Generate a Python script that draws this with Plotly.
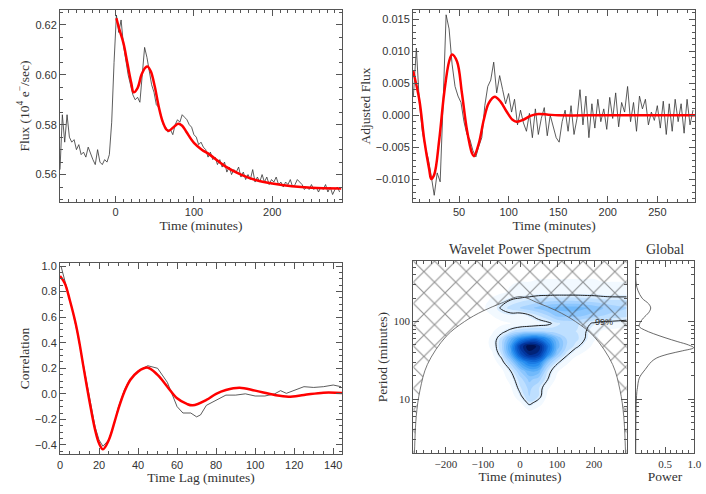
import numpy as np
import plotly.graph_objects as go

# ---- light curve (top left) ----
flux_time = list(range(-71, 288, 3))
flux = [0.562, 0.584, 0.573, 0.584, 0.575, 0.573, 0.574, 0.570, 0.572, 0.568,
        0.569, 0.567, 0.571, 0.568, 0.566, 0.564, 0.570, 0.565, 0.564, 0.566,
        0.565, 0.568, 0.581, 0.605, 0.624, 0.617, 0.622, 0.612, 0.606, 0.600,
        0.596, 0.592, 0.590, 0.591, 0.589, 0.602, 0.611, 0.607, 0.601, 0.596,
        0.593, 0.588, 0.587, 0.583, 0.580, 0.579, 0.577, 0.578, 0.576, 0.580,
        0.582, 0.581, 0.584, 0.583, 0.582, 0.580, 0.579, 0.576, 0.575, 0.572,
        0.573, 0.571, 0.570, 0.567, 0.569, 0.566, 0.567, 0.564, 0.566, 0.563,
        0.565, 0.561, 0.563, 0.560, 0.562, 0.561, 0.563, 0.559, 0.561, 0.558,
        0.560, 0.558, 0.562, 0.557, 0.559, 0.557, 0.560, 0.557, 0.559, 0.556,
        0.558, 0.557, 0.559, 0.556, 0.557, 0.555, 0.557, 0.556, 0.558, 0.555,
        0.556, 0.558, 0.557, 0.556, 0.554, 0.555, 0.554, 0.556, 0.554, 0.555,
        0.553, 0.555, 0.554, 0.556, 0.553, 0.555, 0.552, 0.554, 0.555, 0.553]

fit_time = [1, 5, 10, 15, 20, 23, 28, 33, 38, 41, 45, 50, 55, 60, 65, 68, 75, 80,
            85, 90, 100, 110, 120, 140, 160, 180, 200, 225, 250, 288]
fit_flux = [0.6227, 0.6180, 0.6127, 0.6047, 0.5967, 0.5930, 0.5947, 0.6000, 0.6029,
            0.6033, 0.6013, 0.5953, 0.5873, 0.5813, 0.5780, 0.5776, 0.5793, 0.5804,
            0.5796, 0.5773, 0.5727, 0.5700, 0.5680, 0.5633, 0.5600, 0.5577, 0.5564,
            0.5553, 0.5547, 0.5544]

# ---- detrended flux (top right), units of 1e-3 ----
adj_time = list(range(4, 288, 3))
adj_milli = [3.0, 10.5, 2.0, -2.5, -5.0, -6.8, -9.5, -12.5, -9.0, -10.4,
             2.0, 15.7, 13.5, 8.0, 4.5, 3.0, 2.0, -1.0, -3.0, -3.8,
             -5.5, -6.5, -4.8, -3.5, 1.5, 4.5, 5.5, 8.3, 3.5, 6.2,
             4.0, 1.8, 3.4, 0.5, 2.5, -1.5, 0.8, -1.2, -2.5, 0.3,
             -3.5, 1.0, -3.0, -0.5, 1.2, -3.2, 0.0, -2.0, -3.5, -4.2,
             -1.0, 0.8, -2.5, 1.5, -3.0, -0.5, 4.0, -1.5, 3.0, -3.5,
             1.8, -2.0, 2.5, -1.0, 1.0, -2.2, 2.8, -0.5, 3.5, -1.8,
             2.0, 0.5, 4.5, -1.0, 2.0, -2.5, 3.0, 1.0, 2.5, -1.5,
             0.5, -0.8, 1.5, -2.0, 2.2, -3.0, 1.8, -2.5, 2.5, -1.0,
             1.8, -2.8, 2.5, -1.5, 0.8]

adjfit_time = [3.6, 10, 15, 20, 22, 25, 30, 35, 40, 43, 48, 53, 58, 63, 65, 70, 75,
               80, 86, 92, 98, 104, 108, 115, 122, 130, 140, 150, 200, 288]
adjfit_milli = [7.0, 2.4, -3.9, -8.5, -9.95, -9.3, -3.9, 3.4, 8.4, 9.5, 8.4, 3.4,
                -2.3, -5.9, -6.4, -4.4, -0.7, 1.9, 2.9, 2.1, 0.6, -0.7, -1.0, -0.7,
                -0.1, 0.2, 0.1, 0.0, 0.0, 0.0]

# ---- autocorrelation (bottom left) ----
lag = [0.5, 3, 6, 9, 12, 15, 18, 20, 22, 25, 28, 30, 33, 36, 40, 45, 50, 55, 60,
       63, 67, 70, 72, 75, 80, 85, 90, 95, 100, 105, 110, 113, 116, 120, 125, 130,
       135, 140, 144]
corr = [1.0, 0.85, 0.68, 0.47, 0.23, -0.03, -0.26, -0.36, -0.41, -0.36, -0.22,
        -0.10, 0.03, 0.12, 0.18, 0.22, 0.20, 0.09, -0.10, -0.15, -0.15, -0.18,
        -0.165, -0.09, -0.05, -0.01, -0.01, 0.0, -0.017, -0.017, 0.0, 0.025, 0.004,
        0.03, 0.056, 0.05, 0.056, 0.069, 0.056]

fit_lag = [0, 2.5, 5, 8, 10, 12, 15, 18, 20, 22, 25, 28, 30, 33, 36, 40, 45, 50, 55,
           60, 65, 68, 75, 80, 85, 92, 100, 110, 117, 125, 135, 144.5]
fit_corr = [0.922, 0.864, 0.734, 0.552, 0.395, 0.213, -0.048, -0.283, -0.387,
            -0.434, -0.361, -0.217, -0.113, 0.017, 0.108, 0.174, 0.205, 0.148,
            0.056, -0.035, -0.079, -0.090, -0.048, 0.0, 0.030, 0.048, 0.025,
            -0.009, -0.022, -0.009, 0.009, 0.007]

# ---- wavelet power (bottom right) ----
wave_time = [-288, -150, -100, -75, -50, -25, 0, 25, 50, 75, 100, 125, 150, 175,
             200, 225, 250, 288]
wave_period = [2, 7, 9, 11, 14, 18, 23, 30, 38, 48, 60, 75, 95, 120, 150, 190, 240, 600]
wave_power = [
    [0] * 18,
    [0, 0, 0, 0, 0, 0, 0, 0.02, 0, 0, 0, 0, 0, 0, 0, 0, 0, 0],
    [0, 0, 0, 0, 0, 0, 0.03, 0.15, 0.08, 0, 0, 0, 0, 0, 0, 0, 0, 0],
    [0, 0, 0, 0, 0, 0, 0.10, 0.22, 0.16, 0.02, 0, 0, 0, 0, 0, 0, 0, 0],
    [0, 0, 0, 0, 0, 0.03, 0.15, 0.24, 0.17, 0.05, 0, 0, 0, 0, 0, 0, 0, 0],
    [0, 0, 0, 0, 0, 0.07, 0.19, 0.30, 0.25, 0.12, 0.02, 0, 0, 0, 0, 0, 0, 0],
    [0, 0, 0, 0, 0.02, 0.12, 0.28, 0.40, 0.38, 0.16, 0.05, 0, 0, 0, 0, 0, 0, 0],
    [0, 0, 0, 0, 0.08, 0.25, 0.48, 0.62, 0.60, 0.30, 0.14, 0.06, 0, 0, 0, 0, 0, 0],
    [0, 0, 0, 0.03, 0.16, 0.42, 0.74, 0.90, 0.86, 0.58, 0.30, 0.14, 0.06, 0.02, 0, 0, 0, 0],
    [0, 0, 0, 0.06, 0.20, 0.48, 0.82, 1.00, 0.92, 0.66, 0.38, 0.22, 0.14, 0.08, 0.02, 0, 0, 0],
    [0, 0, 0, 0.06, 0.18, 0.38, 0.56, 0.66, 0.66, 0.52, 0.34, 0.22, 0.18, 0.12, 0.05, 0.02, 0, 0],
    [0, 0, 0, 0.03, 0.09, 0.15, 0.20, 0.22, 0.22, 0.20, 0.18, 0.16, 0.16, 0.13, 0.06, 0.03, 0.02, 0.01],
    [0, 0, 0, 0, 0.02, 0.04, 0.05, 0.06, 0.08, 0.10, 0.15, 0.18, 0.18, 0.14, 0.11, 0.09, 0.09, 0.08],
    [0, 0, 0.01, 0.04, 0.08, 0.09, 0.07, 0.11, 0.16, 0.22, 0.30, 0.30, 0.30, 0.28, 0.25, 0.22, 0.20, 0.18],
    [0, 0, 0.03, 0.07, 0.13, 0.18, 0.22, 0.26, 0.30, 0.34, 0.36, 0.37, 0.37, 0.35, 0.32, 0.28, 0.25, 0.22],
    [0, 0, 0.02, 0.05, 0.09, 0.12, 0.14, 0.16, 0.18, 0.19, 0.20, 0.20, 0.20, 0.19, 0.18, 0.17, 0.16, 0.16],
    [0, 0, 0, 0.02, 0.03, 0.05, 0.06, 0.06, 0.07, 0.07, 0.07, 0.07, 0.07, 0.07, 0.07, 0.06, 0.06, 0.06],
    [0] * 18,
]

# cone of influence
coi_time = [-288, -286, -280, -270, -250, -200, -150, -100, -50, 0, 50, 100, 150,
            200, 250, 270, 280, 286, 288]
coi_period = [1.0, 1.5, 6, 13, 28, 64, 100, 137, 173, 210, 173, 137, 100, 64, 28,
              13, 6, 1.5, 1.0]

# global wavelet spectrum
global_period = [600, 400, 300, 250, 200, 170, 150, 130, 111, 95, 86, 78, 70, 62,
                 55, 50, 46, 42, 38, 34, 30.5, 27, 24, 21, 18.6, 16, 14, 12.5, 10,
                 8.5, 6, 4, 2]
global_power = [0, 0, 0.01, 0.04, 0.11, 0.22, 0.256, 0.22, 0.13, 0.07, 0.062, 0.15,
                0.30, 0.50, 0.72, 0.90, 0.99, 0.80, 0.55, 0.36, 0.27, 0.21, 0.16,
                0.10, 0.06, 0.04, 0.03, 0.02, 0.012, 0.008, 0.004, 0.002, 0]

W, H = 706, 494
AX = '#555'
TXT = '#333'
SERIF = 'Liberation Serif'
SANS = 'Liberation Sans'


def dom(a, b, total):
    return [a / total, b / total]


def ydom(top, bottom):
    return [1 - bottom / H, 1 - top / H]


def axis(rng, dtick, minor_dtick, title=None, font=SANS, **kw):
    d = dict(range=rng, dtick=dtick, showline=True, linecolor=AX, linewidth=1,
             mirror='allticks', ticks='inside', ticklen=6, tickcolor=AX,
             tickfont=dict(family=font, size=11, color=TXT),
             showgrid=False, zeroline=False, automargin=False,
             minor=dict(ticks='inside', ticklen=3, tickcolor=AX, dtick=minor_dtick))
    if title:
        d['title'] = dict(text=title, font=dict(family=SERIF, size=13.5, color=TXT),
                          standoff=2)
    d.update(kw)
    return d


fig = go.Figure()

fig.add_trace(go.Scatter(x=flux_time, y=flux, mode='lines',
                         line=dict(color='#333', width=0.8), xaxis='x', yaxis='y'))
fig.add_trace(go.Scatter(x=fit_time, y=fit_flux, mode='lines',
                         line=dict(color='#ff0000', width=2.5, shape='spline'),
                         xaxis='x', yaxis='y'))

adj = np.array(adj_milli) * 1e-3
adjfit = np.array(adjfit_milli) * 1e-3
fig.add_trace(go.Scatter(x=adj_time, y=adj, mode='lines',
                         line=dict(color='#333', width=0.8), xaxis='x2', yaxis='y2'))
fig.add_trace(go.Scatter(x=adjfit_time, y=adjfit, mode='lines',
                         line=dict(color='#ff0000', width=2.5, shape='spline'),
                         xaxis='x2', yaxis='y2'))

fig.add_trace(go.Scatter(x=lag, y=corr, mode='lines',
                         line=dict(color='#333', width=0.8), xaxis='x3', yaxis='y3'))
fig.add_trace(go.Scatter(x=fit_lag, y=fit_corr, mode='lines',
                         line=dict(color='#ff0000', width=2.5, shape='spline'),
                         xaxis='x3', yaxis='y3'))

blues = [[0.0, '#ffffff'], [0.04, '#eef7ff'], [0.12, '#cde6ff'], [0.25, '#98ccff'],
         [0.4, '#5aaef8'], [0.55, '#2088ee'], [0.7, '#0a5ccc'], [0.85, '#02329a'],
         [1.0, '#000a40']]
fig.add_trace(go.Contour(x=wave_time, y=wave_period, z=wave_power, xaxis='x4', yaxis='y4',
                         colorscale=blues, zmin=0, zmax=1, showscale=False,
                         contours=dict(start=0.04, end=1.0, size=0.06, coloring='fill',
                                       showlines=False),
                         line=dict(width=0, smoothing=1.3), hoverinfo='skip'))
fig.add_trace(go.Contour(x=wave_time, y=wave_period, z=wave_power, xaxis='x4', yaxis='y4',
                         showscale=False,
                         contours=dict(start=0.12, end=0.12, size=1, coloring='none'),
                         line=dict(color='#222', width=1, smoothing=1.3), hoverinfo='skip'))

hatch_x = coi_time + [288, -288]
hatch_y = coi_period + [1000, 1000]
fig.add_trace(go.Scatter(x=hatch_x, y=hatch_y, mode='lines', fill='toself',
                         fillcolor='rgba(0,0,0,0)',
                         fillpattern=dict(shape='x', size=15, solidity=0.15,
                                          fgcolor='#2a2a2a', bgcolor='rgba(0,0,0,0)',
                                          fillmode='overlay'),
                         line=dict(color='#555', width=0.8, shape='spline'),
                         xaxis='x4', yaxis='y4', hoverinfo='skip'))

fig.add_trace(go.Scatter(x=global_power, y=global_period, mode='lines',
                         line=dict(color='#444', width=0.8, shape='spline'),
                         xaxis='x5', yaxis='y5'))

log_minor = [2, 3, 4, 5, 6, 7, 8, 9, 20, 30, 40, 50, 60, 70, 80, 90, 200, 300, 400, 500, 600]
prange = [np.log10(2.0), np.log10(605)]


def log_axis(title=None, labels=True):
    d = dict(type='log', range=prange, tickvals=[10, 100], ticktext=['10', '100'],
             showticklabels=labels, showline=True, linecolor=AX, linewidth=1,
             mirror='allticks', ticks='inside', ticklen=6, tickcolor=AX,
             tickfont=dict(family=SERIF, size=11, color=TXT),
             showgrid=False, zeroline=False, automargin=False,
             minor=dict(ticks='inside', ticklen=3, tickcolor=AX, tickvals=log_minor))
    if title:
        d['title'] = dict(text=title, font=dict(family=SERIF, size=13.5, color=TXT),
                          standoff=2)
    return d


fig.update_layout(
    width=W, height=H, margin=dict(l=0, r=0, t=0, b=0, autoexpand=False),
    paper_bgcolor='white', plot_bgcolor='white', showlegend=False,
    xaxis=axis([-71, 289], 100, 10, 'Time (minutes)',
               domain=dom(60, 342, W), anchor='y'),
    yaxis=axis([0.549, 0.626], 0.02, 0.005, 'Flux (10<sup>4</sup> e<sup>\u2212</sup>/sec)',
               tickformat='.2f', domain=ydom(10, 202), anchor='x'),
    xaxis2=axis([3.6, 288.3], 50, 10, 'Time (minutes)',
                domain=dom(413, 695.3, W), anchor='y2'),
    yaxis2=axis([-0.01355, 0.01645], 0.005, 0.001, 'Adjusted Flux',
                tickformat='.3f', domain=ydom(10, 202), anchor='x2'),
    xaxis3=axis([0, 144.5], 20, 5, 'Time Lag (minutes)',
                domain=dom(60, 342, W), anchor='y3'),
    yaxis3=axis([-0.473, 1.026], 0.2, 0.05, 'Correlation',
                tickformat='.1f', domain=ydom(262.7, 454.3), anchor='x3'),
    xaxis4=axis([-288, 288], 100, 20, 'Time (minutes)', font=SERIF,
                domain=dom(413.3, 626.7, W), anchor='y4'),
    yaxis4=dict(log_axis('Period (minutes)'), domain=ydom(261, 453.3), anchor='x4'),
    xaxis5=axis([0, 1.0], 0.5, 0.1, 'Power', font=SERIF,
                tickvals=[0.5, 1.0], ticktext=['0.5', '1.0'],
                domain=dom(635.7, 694.3, W), anchor='y5'),
    yaxis5=dict(log_axis(labels=False), domain=ydom(261, 453.3), anchor='x5'),
    annotations=[
        dict(text='Wavelet Power Spectrum', x=520 / W, y=1 - 249 / H, xref='paper',
             yref='paper', xanchor='center', yanchor='middle', showarrow=False,
             font=dict(family=SERIF, size=14, color=TXT)),
        dict(text='Global', x=665 / W, y=1 - 249 / H, xref='paper', yref='paper',
             xanchor='center', yanchor='middle', showarrow=False,
             font=dict(family=SERIF, size=14, color=TXT)),
        dict(text='99%', x=228, y=np.log10(100), xref='x4', yref='y4', showarrow=False,
             font=dict(family=SANS, size=9, color='#333')),
    ],
)

# the page body keeps an 8px default margin; drop it so the figure fills the window
fig.write_html("out.html", config={'displayModeBar': False},
               post_script="document.body.style.margin='0';")
